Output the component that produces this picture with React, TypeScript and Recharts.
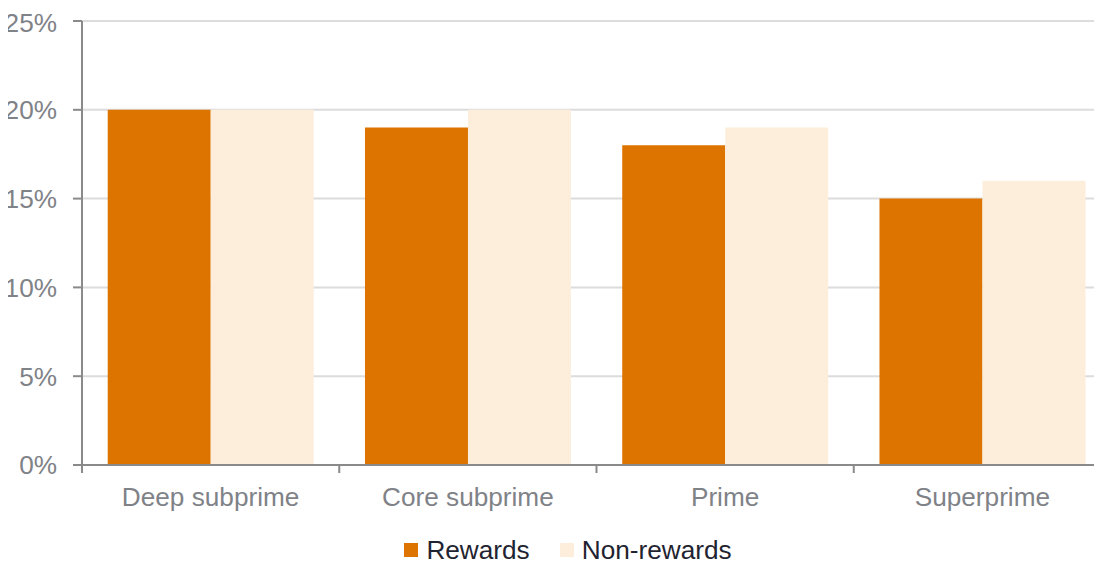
import React from "react";
import { BarChart, Bar, XAxis, YAxis, CartesianGrid, Legend } from "recharts";

const categories = ["Deep subprime", "Core subprime", "Prime", "Superprime"];
const rewards = [20, 19, 18, 15];
const nonRewards = [20, 20, 19, 16];
const yTicks = [0, 5, 10, 15, 20, 25];
const seriesOrder = ["rewards", "nonRewards"];

const data = categories.map((c, i) => ({ name: c, rewards: rewards[i], nonRewards: nonRewards[i] }));

const FONT = "'Liberation Sans', Arial, sans-serif";
const FS = 26.2;
const AXIS = "#8a8a8a";
const LABEL = "#7f8287";
const C_REW = "#DD7400";
const C_NON = "#FDEEDC";

const XTick = (props: any) => {
  const { x, y, payload, width, visibleTicksCount } = props;
  const half = typeof width === "number" && visibleTicksCount ? width / visibleTicksCount / 2 : null;
  const axisY = y - 22;
  return (
    <g>
      {half !== null && (
        <line x1={x - half} x2={x - half} y1={axisY} y2={axisY + 8} stroke={AXIS} strokeWidth={2} />
      )}
      <text x={x} y={y} dy="0.71em" textAnchor="middle" fill={LABEL} fontSize={FS} fontFamily={FONT}>
        {payload.value}
      </text>
    </g>
  );
};

const LegendContent = (props: any) => {
  const items = [...(props.payload || [])].sort(
    (a: any, b: any) => seriesOrder.indexOf(a.dataKey) - seriesOrder.indexOf(b.dataKey)
  );
  return (
    <div
      style={{
        display: "flex",
        justifyContent: "center",
        alignItems: "center",
        height: 26,
        paddingLeft: 17,
        fontFamily: FONT,
        fontSize: FS,
        color: "#1f2430",
      }}
    >
      {items.map((p: any, i: number) => (
        <div key={i} style={{ display: "flex", alignItems: "center", marginLeft: i === 0 ? 0 : 30 }}>
          <span style={{ display: "inline-block", width: 14, height: 14, background: p.color, marginRight: 8 }} />
          <span>{p.value}</span>
        </div>
      ))}
    </div>
  );
};

export default function App() {
  return (
    <div style={{ width: 1094, height: 555, overflow: "hidden" }}>
      <BarChart
        width={1103}
        height={555}
        data={data}
        margin={{ top: 13, right: 0, bottom: 0, left: 0 }}
        barCategoryGap="10%"
        barGap={0}
      >
        <CartesianGrid vertical={false} stroke="#dcdcdc" strokeWidth={2} />
        <XAxis
          dataKey="name"
          height={72}
          tickSize={0}
          tickMargin={22}
          tickLine={false}
          axisLine={{ stroke: AXIS, strokeWidth: 2 }}
          tick={<XTick />}
          interval={0}
        />
        <YAxis
          width={74}
          domain={[0, 25]}
          ticks={yTicks}
          tickSize={9}
          tickMargin={16}
          tickFormatter={(v: number) => `${v}%`}
          axisLine={{ stroke: AXIS, strokeWidth: 2 }}
          tickLine={{ stroke: AXIS, strokeWidth: 2 }}
          tick={{ fill: LABEL, fontSize: FS, fontFamily: FONT }}
        />
        <Legend verticalAlign="bottom" content={<LegendContent />} />
        <Bar dataKey="rewards" name="Rewards" fill={C_REW} isAnimationActive={false} />
        <Bar dataKey="nonRewards" name="Non-rewards" fill={C_NON} isAnimationActive={false} />
      </BarChart>
    </div>
  );
}
